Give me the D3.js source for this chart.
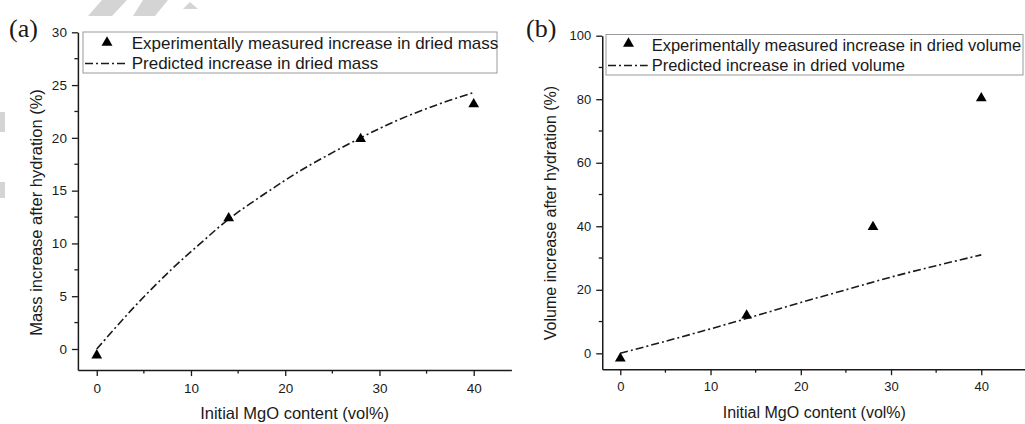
<!DOCTYPE html>
<html><head><meta charset="utf-8">
<script src="https://cdn.jsdelivr.net/npm/d3@7"></script>
<style>
html,body{margin:0;padding:0;background:#fff;}
svg{display:block;font-family:"Liberation Sans",Arial,sans-serif;}
</style></head>
<body><svg id="c" width="1025" height="424"></svg>
<script>
// ---- data ----
const expX = [0, 14, 28, 40];
const massExp = [-0.6, 12.4, 19.9, 23.2];
const volExp = [-1.6, 11.9, 39.8, 80.3];
const predMassX = [0, 4, 8, 11, 14, 19, 22, 28, 32, 36, 40];
const predMassY = [0, 4.0, 7.6, 10.0, 12.3, 15.4, 17.1, 20.0, 21.7, 23.1, 24.3];
const predVolX = [0, 5, 10, 15, 20, 25, 30, 35, 40];
const predVolY = [0, 3.8, 7.7, 11.8, 16.0, 20.0, 24.0, 27.6, 31.0];
const xTicks = [0, 10, 20, 30, 40];
const massTicks = [0, 5, 10, 15, 20, 25, 30];
const volTicks = [0, 20, 40, 60, 80, 100];
const xTitle = "Initial MgO content (vol%)";

const svg = d3.select("#c");
const ink = "#1a1a1a";

// faint watermark fragments
const wm = svg.append("g").attr("fill", "#d4d4d4");
wm.append("polygon").attr("points", "102,0 127,0 112,16 88,16");
wm.append("polygon").attr("points", "143,0 168,0 155,16 133,16");
wm.append("polygon").attr("points", "190,2 198,9 183,9");
wm.append("rect").attr("x", 0).attr("y", 112).attr("width", 5).attr("height", 20);
wm.append("rect").attr("x", 0).attr("y", 182).attr("width", 5).attr("height", 16);

function panel(o) {
  const g = svg.append("g");
  const x = d3.scaleLinear().domain(o.xDom).range(o.xRange);
  const y = d3.scaleLinear().domain(o.yDom).range(o.yRange);
  const minorX = d3.range(5, o.xDom[1], 10);
  const minorY = o.minorY;
  const axisY = o.yRange[0], axisX = o.xRange[0];

  // minor ticks
  g.append("g").selectAll("line").data(minorX).join("line")
    .attr("x1", d => x(d)).attr("x2", d => x(d))
    .attr("y1", axisY).attr("y2", axisY + 3.5)
    .attr("stroke", ink).attr("stroke-width", 1.3);
  g.append("g").selectAll("line").data(minorY).join("line")
    .attr("y1", d => y(d)).attr("y2", d => y(d))
    .attr("x1", axisX).attr("x2", axisX - 3.5)
    .attr("stroke", ink).attr("stroke-width", 1.3);

  const xa = g.append("g").attr("transform", `translate(0,${axisY})`)
    .call(d3.axisBottom(x).tickValues(xTicks).tickSize(6).tickPadding(o.xPad).tickSizeOuter(0));
  const ya = g.append("g").attr("transform", `translate(${axisX},0)`)
    .call(d3.axisLeft(y).tickValues(o.yTicks).tickSize(6).tickPadding(o.yPad).tickSizeOuter(0));
  [xa, ya].forEach(a => {
    a.select(".domain").attr("stroke", ink).attr("stroke-width", 1.5);
    a.selectAll(".tick line").attr("stroke", ink).attr("stroke-width", 1.3);
    a.selectAll(".tick text").attr("fill", ink).attr("font-size", o.tickFs)
      .attr("font-family", "Liberation Sans, Arial, sans-serif");
  });

  // titles
  g.append("text").attr("x", (o.xRange[0] + o.xRange[1]) / 2).attr("y", o.xTitleY)
    .attr("text-anchor", "middle").attr("font-size", o.titleFs).attr("fill", ink).text(xTitle);
  g.append("text").attr("transform", `translate(${o.yTitleX},${o.yTitleC}) rotate(-90)`)
    .attr("text-anchor", "middle").attr("font-size", o.titleFs).attr("fill", ink).text(o.yTitle);
  g.append("text").attr("x", o.labX).attr("y", 37)
    .attr("font-family", "Liberation Serif, Times New Roman, serif")
    .attr("font-size", 26).attr("fill", ink).text(o.lab);

  // predicted line
  const line = d3.line().x(d => x(d[0])).y(d => y(d[1])).curve(d3.curveCatmullRom.alpha(0.5));
  g.append("path").datum(o.predX.map((v, i) => [v, o.predY[i]]))
    .attr("d", line).attr("fill", "none").attr("stroke", ink)
    .attr("stroke-width", 1.6).attr("stroke-dasharray", "8,3,2,3");

  // experimental markers
  const tri = d3.symbol().type(d3.symbolTriangle).size(50);
  g.append("g").selectAll("path").data(expX.map((v, i) => [v, o.expY[i]])).join("path")
    .attr("transform", d => `translate(${x(d[0])},${y(d[1])})`)
    .attr("d", tri).attr("fill", "#000");

  // legend
  const L = o.leg;
  g.append("rect").attr("x", L.x0).attr("y", L.y0).attr("width", L.x1 - L.x0).attr("height", L.y1 - L.y0)
    .attr("fill", "#fff").attr("stroke", "#9a9a9a").attr("stroke-width", 1);
  g.append("path").attr("transform", `translate(${L.triX},${L.triY})`)
    .attr("d", d3.symbol().type(d3.symbolTriangle).size(52)).attr("fill", "#000");
  g.append("line").attr("x1", L.x0 + 2).attr("x2", L.textX - 4).attr("y1", L.dashY).attr("y2", L.dashY)
    .attr("stroke", ink).attr("stroke-width", 1.6).attr("stroke-dasharray", "8,3,2,3");
  g.append("text").attr("x", L.textX).attr("y", L.b1).attr("font-size", o.legFs).attr("fill", ink).text(o.leg1);
  g.append("text").attr("x", L.textX).attr("y", L.b2).attr("font-size", o.legFs).attr("fill", ink).text(o.leg2);
}

panel({
  xDom: [-2, 44], xRange: [77.9, 511.4],
  yDom: [-2, 30], yRange: [370.1, 32.3],
  yTicks: massTicks, minorY: d3.range(2.5, 30, 5),
  xPad: 7, yPad: 5, tickFs: 13.5, titleFs: 16.5, legFs: 17,
  xTitleY: 419, yTitleX: 42, yTitleC: 212.5,
  yTitle: "Mass increase after hydration (%)",
  lab: "(a)", labX: 9,
  predX: predMassX, predY: predMassY, expY: massExp,
  leg: {x0: 83, x1: 497, y0: 32, y1: 73, triX: 107, triY: 42.5, dashY: 63.5, textX: 131.7, b1: 48.5, b2: 69},
  leg1: "Experimentally measured increase in dried mass",
  leg2: "Predicted increase in dried mass"
});

panel({
  xDom: [-2, 45], xRange: [602.25, 1026.4],
  yDom: [-5, 100], yRange: [369.2, 35.7],
  yTicks: volTicks, minorY: d3.range(10, 100, 20),
  xPad: 7, yPad: 5, tickFs: 13, titleFs: 16, legFs: 16.5,
  xTitleY: 418, yTitleX: 556, yTitleC: 213,
  yTitle: "Volume increase after hydration (%)",
  lab: "(b)", labX: 526,
  predX: predVolX, predY: predVolY, expY: volExp,
  leg: {x0: 606, x1: 1023, y0: 34.5, y1: 75, triX: 628.5, triY: 43.5, dashY: 65.5, textX: 651.7, b1: 50.5, b2: 70.5},
  leg1: "Experimentally measured increase in dried volume",
  leg2: "Predicted increase in dried volume"
});
</script></body></html>
